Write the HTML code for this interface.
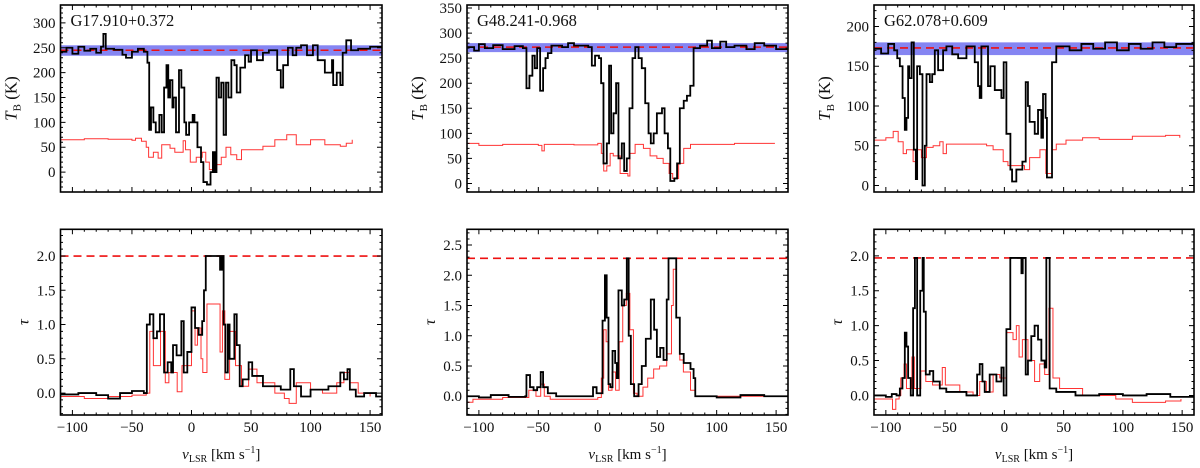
<!DOCTYPE html>
<html><head><meta charset="utf-8"><style>
html,body{margin:0;padding:0;background:#fff;}
svg{display:block;font-family:"Liberation Serif",serif;}
</style></head><body>
<svg id="chart" width="1200" height="468" viewBox="0 0 1200 468" xmlns="http://www.w3.org/2000/svg"></svg>
<script>
// ---- data: [velocity km/s, value] step breakpoints ----
const xTicks = [-100,-50,0,50,100,150];
const sourceNames = ["G17.910+0.372","G48.241-0.968","G62.078+0.609"];
const tbTicks1 = [0,50,100,150,200,250,300];
const tbTicks2 = [0,50,100,150,200,250,300,350];
const tbTicks3 = [0,50,100,150,200];
const tauTicks1 = [0,0.5,1.0,1.5,2.0];
const tauTicks2 = [0,0.5,1.0,1.5,2.0,2.5];
const tauTicks3 = [0,0.5,1.0,1.5,2.0];
const bandLevels = [[234,255,245],[262,280,272],[164,180,173]];
const tauLimits = [2.0,2.28,1.97];

const p1TbBlack = [[-110,242],[-105,250],[-100,238],[-95,252],[-90,244],[-85,248],[-80,240],[-76,252],[-74,278],[-72,248],[-65,246],[-58,236],[-55,230],[-50,242],[-45,248],[-40,242],[-37,220],[-35.5,85],[-34,130],[-32,100],[-30,80],[-27,115],[-25,80],[-23,170],[-21,215],[-19.5,150],[-18,185],[-16,130],[-15,150],[-13,80],[-10.5,205],[-8.5,170],[-6,100],[-4.5,75],[-2,100],[1,115],[2.5,100],[5,50],[8,20],[10,-20],[13,-25],[16,0],[18,40],[19.5,0],[21,190],[23,150],[25,180],[27,75],[29,180],[31,150],[33.5,225],[36,215],[38,160],[41,210],[45,235],[48,222],[50,245],[55,225],[60,240],[65,245],[72,205],[75,170],[77,215],[81,250],[85,235],[88,250],[92,255],[97,235],[102,255],[106,225],[112,200],[118,225],[119,175],[122,200],[125,175],[127,240],[130,265],[134,245],[140,248],[150,252],[160,250]];
const p1TbRed = [[-110,65],[-90,67],[-70,66],[-50,64],[-47,68],[-42,62],[-38,50],[-36,30],[-32,40],[-28,28],[-25,55],[-18,48],[-14,40],[-7,63],[-5,45],[-1,20],[4,30],[9,40],[12,20],[15,5],[19,15],[25,30],[29,50],[33,35],[38,25],[42,45],[60,52],[70,65],[80,75],[88,55],[100,65],[112,55],[125,52],[130,58],[135,65]];
const p1TauBlack = [[-110,-0.02],[-95,0.0],[-80,-0.03],[-70,-0.08],[-60,0.0],[-50,0.03],[-40,0.0],[-37.5,1.0],[-35,1.15],[-32,0.8],[-29,0.9],[-26.5,1.15],[-23,0.3],[-20,0.45],[-17,0.3],[-15.5,0.7],[-12.5,0.55],[-8.5,1.05],[-6.5,0.3],[-3.5,0.6],[0,1.25],[3,0.95],[6,0.85],[9,1.05],[10.5,1.5],[12,2.0],[24,1.8],[25.5,2.0],[27,1.0],[28.5,0.3],[30.5,1.0],[32,0.5],[36,1.15],[38,0.7],[40.5,0.1],[43,0.2],[48,0.45],[51,0.25],[60,0.1],[75,0.05],[83,0.35],[86,0.1],[92,-0.05],[100,0.05],[115,0.1],[125,0.3],[128,0.2],[131,0.35],[133,0.05],[138,-0.05],[145,0.0],[155,-0.05],[160,-0.05]];
const p1TauRed = [[-110,-0.05],[-90,-0.08],[-70,-0.05],[-50,-0.03],[-38,0.0],[-35,0.9],[-32,0.4],[-26,0.9],[-22,0.15],[-19,0.3],[-12,0.02],[-8,0.4],[0,1.2],[3,0.7],[5,0.95],[8,0.5],[9.5,0.3],[13,1.3],[24,0.6],[26,1.2],[28,0.2],[32,0.9],[37,0.4],[42,0.1],[48,0.35],[55,0.15],[70,0.0],[78,-0.08],[82,-0.15],[88,0.15],[100,0.05],[110,0.0],[122,0.15],[128,0.3],[133,0.15],[140,0.0],[150,-0.05]];

const p2TbBlack = [[-110,272],[-104,265],[-100,278],[-95,270],[-88,276],[-80,268],[-70,274],[-63,270],[-60,190],[-57.5,215],[-55,255],[-53,230],[-51,270],[-48.5,185],[-46,230],[-44,250],[-42,260],[-39,275],[-30,272],[-25,280],[-20,275],[-8,272],[-5,235],[-2.3,255],[1,250],[2.8,200],[4.8,40],[7.6,80],[9.5,235],[11.2,100],[13.2,140],[15.4,200],[17.4,50],[20.2,80],[22.2,25],[24.4,50],[26.7,150],[29.2,250],[31.5,272],[34.3,250],[37,230],[39.9,160],[42.7,100],[44.6,80],[47,100],[49.7,140],[54,150],[56.2,100],[59,70],[61,5],[64.4,10],[66.7,40],[69,150],[72.3,165],[75,175],[77.8,195],[80.6,270],[86,275],[92,285],[96,270],[103,283],[108,272],[115,275],[125,268],[132,280],[140,275],[150,268],[160,270]];
const p2TbRed = [[-110,80],[-100,76],[-80,78],[-50,76],[-47,65],[-45,78],[-20,77],[0,80],[3,60],[5,25],[7.6,35],[10.4,60],[13,55],[18.8,20],[25.3,15],[27,60],[31.4,78],[38.4,70],[44,55],[49.7,50],[55,40],[60,20],[63,10],[68,40],[72.3,70],[78,78],[100,78],[115,80],[149,80]];
const p2TauBlack = [[-110,0.0],[-100,-0.02],[-90,0.02],[-75,-0.01],[-61,0.0],[-60,0.35],[-57,0.15],[-54,0.1],[-51,0.15],[-48,0.4],[-46,0.15],[-42,0.05],[-35,0.0],[-6,0.0],[-4,0.15],[-1,0.05],[2,0.05],[4,1.25],[6,2.0],[7.5,1.3],[9,0.2],[10.5,0.15],[12.4,0.75],[14.6,0.55],[16,0.3],[17.4,1.75],[20.2,1.5],[22.2,1.6],[24.4,2.28],[26,1.0],[27.8,0.2],[30.6,0.0],[34.3,0.2],[37,0.5],[40.4,0.95],[44.6,1.6],[47.4,1.1],[49.7,0.65],[52.5,0.8],[55.3,0.6],[58,1.6],[59.5,2.28],[64,2.28],[66,1.3],[69,0.7],[72.3,0.55],[78,0.45],[80.6,0.3],[82,0.0],[100,-0.02],[120,0.02],[140,0.0],[160,0.0]];
const p2TauRed = [[-110,-0.1],[-105,-0.05],[-80,-0.02],[-58,0.1],[-52,0.0],[-48,0.2],[-45,0.0],[-40,-0.05],[0,-0.02],[3,0.3],[5,1.1],[7,0.9],[9,0.1],[12,0.4],[15,0.1],[18,0.9],[21,1.5],[24,1.7],[27,1.1],[30,0.05],[33,0.0],[38,0.15],[42,0.3],[47,0.45],[52,0.5],[56,0.5],[58,0.7],[62,1.5],[63.5,2.1],[66,1.3],[69,0.6],[72,0.4],[78,0.1],[82,0.0],[150,0.0]];

const p3TbBlack = [[-110,172],[-104,166],[-98,178],[-93,170],[-90.4,160],[-88.2,150],[-85.9,110],[-84,70],[-82.6,85],[-81.2,150],[-80.3,135],[-78.3,180],[-76.4,45],[-74.7,8],[-73.6,150],[-71.3,140],[-69.1,0],[-67.1,50],[-65.7,140],[-62.9,130],[-60.9,140],[-58.7,170],[-55.9,145],[-51.7,170],[-48.9,175],[-44,165],[-39,160],[-32,175],[-25,155],[-22.2,125],[-20.8,110],[-19.4,175],[-13.8,125],[-11.8,150],[-8.1,120],[-2.5,110],[-0.6,155],[1.7,65],[5.1,20],[6.5,5],[10.1,20],[15.2,30],[18,130],[19.9,100],[21.3,80],[25.6,65],[28.4,95],[31.2,60],[32.6,115],[34.8,85],[35.9,10],[38.8,10],[40.2,155],[43.8,175],[55,170],[65,178],[75,172],[85,180],[95,170],[105,178],[115,172],[125,180],[135,174],[145,178],[160,175]];
const p3TbRed = [[-110,57],[-100,60],[-96.6,60],[-93.8,68],[-89.6,55],[-85.4,40],[-82.6,45],[-77,30],[-74.2,45],[-70,35],[-65.7,48],[-60.1,50],[-54.5,55],[-51.7,40],[-48.9,52],[-32,52],[-15,50],[-9.5,45],[-1,30],[3,25],[13,25],[17,20],[21.3,35],[30,45],[35,15],[40.2,45],[43.8,52],[52,57],[66,60],[80,58],[108,62],[136,63],[148,60]];
const p3TauBlack = [[-110,0.0],[-100,-0.02],[-95,0.02],[-91,0.0],[-88.2,0.1],[-86,0.25],[-84,0.9],[-82.6,0.7],[-81.2,0.25],[-79,0.0],[-77,1.25],[-75.5,1.97],[-73.6,0.0],[-71,1.5],[-69,1.97],[-68,1.2],[-66.3,0.3],[-63,0.35],[-60,0.2],[-54.5,0.1],[-49,0.05],[-32,0.0],[-23,0.3],[-20.8,0.45],[-18.5,0.2],[-16.6,0.05],[-12.4,0.3],[-6.7,0.2],[-2.5,0.4],[-0.6,0.0],[1.7,0.95],[5,1.97],[14.4,1.75],[15.5,1.97],[16,1.97],[18,0.3],[19.9,0.5],[22.7,0.85],[25.5,1.0],[28.4,0.8],[31.2,0.5],[34,0.4],[35.4,1.97],[38.2,0.1],[43.8,0.05],[60,0.0],[80,0.02],[100,0.0],[120,0.02],[140,-0.02],[160,0.0]];
const p3TauRed = [[-110,-0.05],[-98,-0.05],[-94.4,-0.2],[-91.6,-0.05],[-88.8,0.0],[-87.4,0.25],[-84.6,0.45],[-82.6,0.1],[-78,0.55],[-76,0.1],[-70.5,0.35],[-66.3,0.2],[-60.6,0.15],[-52.4,0.4],[-49.8,0.15],[-37.6,0.05],[-26.4,0.0],[-20.8,0.2],[-15.2,0.05],[-9.5,0.3],[-3.9,0.25],[1.7,0.9],[7.3,0.8],[10.1,1.0],[12.4,0.55],[15.2,0.8],[19.9,0.5],[25.5,0.2],[29.8,0.45],[34,0.3],[37.6,1.25],[41,0.25],[46.6,0.1],[66,0.0],[94,-0.05],[108,-0.1],[136,-0.08],[149,-0.05]];

// ---- layout ----
const NS = "http://www.w3.org/2000/svg";
const svg = document.getElementById('chart');
const cols = [{L:60.5,R:382},{L:467,R:788},{L:874,R:1194}];
const topRow = {T:5,B:192};
const botRow = {T:229.3,B:415};
const XMIN=-110, XMAX=160;
const topRanges = [[-40,336],[-17,356],[-8.2,227]];
const botRanges = [[-0.32,2.39],[-0.31,2.76],[-0.28,2.38]];
const topTickSets = [tbTicks1,tbTicks2,tbTicks3];
const botTickSets = [tauTicks1,tauTicks2,tauTicks3];
const tbSeries = [[p1TbBlack,p1TbRed],[p2TbBlack,p2TbRed],[p3TbBlack,p3TbRed]];
const tauSeries = [[p1TauBlack,p1TauRed],[p2TauBlack,p2TauRed],[p3TauBlack,p3TauRed]];

function mk(tag, attrs, parent){
  const e = document.createElementNS(NS, tag);
  for (const k in attrs) e.setAttribute(k, attrs[k]);
  (parent||svg).appendChild(e);
  return e;
}
function stepPath(data, sx, sy){
  let d = 'M'+sx(data[0][0]).toFixed(2)+','+sy(data[0][1]).toFixed(2);
  for (let i=1;i<data.length;i++){
    d += 'H'+sx(data[i][0]).toFixed(2)+'V'+sy(data[i][1]).toFixed(2);
  }
  return d;
}
let clipId = 0;
function panel(ci, row, range, ticks, series, isTop){
  const c = cols[ci];
  const g = mk('g',{});
  
  
  const sx = v => c.L + (v-XMIN)/(XMAX-XMIN)*(c.R-c.L);
  const sy = y => row.B - (y-range[0])/(range[1]-range[0])*(row.B-row.T);
  const id = 'clip'+(clipId++);
  const cp = mk('clipPath',{id:id}, g);
  mk('rect',{x:c.L,y:row.T,width:c.R-c.L,height:row.B-row.T}, cp);
  const plot = mk('g',{'clip-path':'url(#'+id+')'}, g);
  if (isTop){
    const b = bandLevels[ci];
    const band = mk('rect',{x:c.L,y:sy(b[1]),width:c.R-c.L,height:sy(b[0])-sy(b[1]),fill:'#7070f0','fill-opacity':'0.85'}, plot);
    
    
    const dl = mk('line',{x1:c.L,x2:c.R,y1:sy(b[2]),y2:sy(b[2]),stroke:'#ee1111','stroke-width':1.6,'stroke-dasharray':'8,5'}, plot);
    
    
  } else {
    const dl = mk('line',{x1:c.L,x2:c.R,y1:sy(tauLimits[ci]),y2:sy(tauLimits[ci]),stroke:'#ee1111','stroke-width':1.6,'stroke-dasharray':'8,5'}, plot);
    
    
  }
  const red = mk('path',{d:stepPath(series[1],sx,sy),fill:'none',stroke:'#ff3333','stroke-width':1}, plot);
  
  
  const blk = mk('path',{d:stepPath(series[0],sx,sy),fill:'none',stroke:'#000','stroke-width':1.8,'stroke-linejoin':'miter'}, plot);
  
  
  // ticks
  let td = '';
  for (let v=-110; v<=160; v+=10){
    const x = sx(v); const major = (v%50===0);
    const len = major?5:2.5;
    td += 'M'+x+','+row.B+'v'+(-len)+'M'+x+','+row.T+'v'+len;
  }
  const step = ticks[1]-ticks[0];
  const minor = step/5;
  for (let y=Math.ceil(range[0]/minor)*minor; y<=range[1]; y+=minor){
    const yy = sy(y);
    const isMaj = Math.abs(Math.round(y/step)*step - y) < minor*0.01;
    const len = isMaj?5:2.5;
    td += 'M'+c.L+','+yy+'h'+len+'M'+c.R+','+yy+'h'+(-len);
  }
  mk('path',{d:td,stroke:'#000','stroke-width':1,fill:'none'}, g);
  const fr = mk('rect',{x:c.L,y:row.T,width:c.R-c.L,height:row.B-row.T,fill:'none',stroke:'#000','stroke-width':1.6}, g);
  
  
  // y tick labels
  ticks.forEach(t=>{
    const tx = mk('text',{x:c.L-5,y:sy(t)+5,'text-anchor':'end','font-size':15,fill:'#111'}, g);
    tx.textContent = isTop ? String(t) : t.toFixed(1);
    
    
  });
  if (!isTop){
    xTicks.forEach(t=>{
      const tx = mk('text',{x:sx(t),y:row.B+17,'text-anchor':'middle','font-size':15,fill:'#111'}, g);
      tx.textContent = t<0 ? '\u2212'+Math.abs(t) : String(t);
      
      
    });
    const xt = mk('text',{x:(c.L+c.R)/2,y:459,'text-anchor':'middle','font-size':15,fill:'#111'}, g);
    xt.innerHTML = '<tspan font-style="italic">v</tspan><tspan font-size="10" dy="3">LSR</tspan><tspan dy="-3"> [km s</tspan><tspan font-size="10" dy="-6">\u22121</tspan><tspan dy="6">]</tspan>';
    
    
    const yt = mk('text',{x:0,y:0,'text-anchor':'middle','font-size':16,'font-style':'italic',fill:'#111',transform:'translate('+(c.L-32)+','+((row.T+row.B)/2)+') rotate(-90)'}, g);
    yt.textContent = '\u03c4';
    
    
  } else {
    const yt = mk('text',{x:0,y:0,'text-anchor':'middle','font-size':17,fill:'#111',transform:'translate('+(c.L-44)+','+((row.T+row.B)/2)+') rotate(-90)'}, g);
    yt.innerHTML = '<tspan font-style="italic">T</tspan><tspan font-size="11" dy="4">B</tspan><tspan dy="-4"> (K)</tspan>';
    
    
    const nm = mk('text',{x:c.L+10,y:row.T+21,'font-size':16.5,fill:'#111'}, g);
    nm.textContent = sourceNames[ci];
    
    
  }
}
for (let i=0;i<3;i++){
  panel(i, topRow, topRanges[i], topTickSets[i], tbSeries[i], true);
  panel(i, botRow, botRanges[i], botTickSets[i], tauSeries[i], false);
}
</script>
</body></html>
